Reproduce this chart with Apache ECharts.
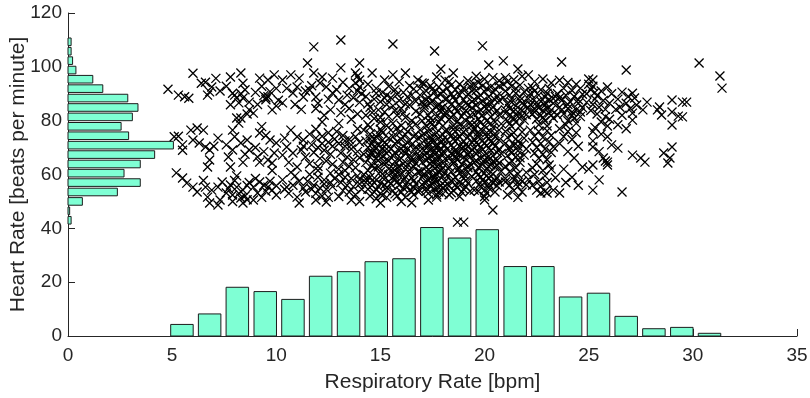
<!DOCTYPE html>
<html>
<head>
<meta charset="utf-8">
<script src="https://cdn.jsdelivr.net/npm/echarts@6/dist/echarts.min.js"></script>
<style>
html,body{margin:0;padding:0;background:#fff;}
#chart{width:810px;height:398px;}
</style>
</head>
<body>
<div id="chart"></div>
<script>
// Respiratory-rate histogram (bottom): bin centres and heights
const rrBinCenters = [5.47, 6.80, 8.13, 9.47, 10.80, 12.13, 13.47, 14.80, 16.13, 17.47, 18.80, 20.13, 21.47, 22.80, 24.13, 25.47, 26.80, 28.13, 29.47, 30.80];
const rrBinValues  = [4.3, 8.2, 18.1, 16.5, 13.6, 22.2, 23.9, 27.6, 28.7, 40.3, 36.4, 39.5, 25.8, 25.8, 14.5, 15.9, 7.3, 2.7, 3.2, 1.0];
const rrBinWidth = 1.333;

// Heart-rate histogram (left): bin centres and lengths
const hrBinCenters = [43.0, 46.5, 50.0, 53.5, 57.0, 60.5, 63.9, 67.4, 70.9, 74.4, 77.9, 81.4, 84.9, 88.4, 91.9, 95.4, 98.8, 102.3, 105.8, 109.3];
const hrBinValues  = [0.15, 0.08, 0.69, 2.37, 3.47, 2.69, 3.47, 4.16, 5.06, 2.91, 2.55, 3.09, 3.36, 2.87, 1.67, 1.19, 0.38, 0.22, 0.15, 0.15];
const hrBinWidth = 3.49;

// Scatter: [respiratory rate, heart rate]
const rrHr = [
[4.8,91.7],[5.3,89.5],[5.6,88.9],[5.8,88.3],[6.0,97.6],[5.1,74.0],[5.3,74.2],[5.5,71.0],[5.9,76.5],[6.0,72.8],[5.5,69.0],[5.2,60.6],[5.5,58.7],[5.7,56.8],[6.0,55.3],
[6.4,93.9],[6.6,94.3],[6.9,92.5],[6.8,90.7],[7.1,95.7],[6.7,89.5],[7.3,91.0],[6.2,77.3],[6.5,76.5],[6.3,71.7],[6.6,70.2],[6.8,69.1],[6.8,65.4],[6.7,62.8],[7.2,73.5],[7.0,70.5],[6.2,53.5],[6.6,55.3],[6.9,54.2],[6.7,51.6],[7.2,55.3],[7.4,57.2],[7.3,50.5],[6.8,49.4],[7.2,48.7],[6.5,57.8],
[7.8,96.2],[8.3,97.7],[8.4,93.9],[7.9,90.2],[8.1,88.4],[8.4,88.4],[8.7,86.9],[8.2,86.6],[7.8,85.9],[8.0,89.5],[8.5,91.5],[7.6,92.8],[8.3,90.0],[8.7,84.0],[8.3,81.0],[8.2,79.1],[8.6,82.5],
[7.7,66.5],[7.8,62.8],[7.9,69.1],[8.3,71.7],[7.9,76.5],[8.1,81.0],[8.7,69.1],[8.6,72.8],[8.0,74.0],[8.5,67.5],[7.6,71.0],[8.4,64.5],
[7.8,56.1],[8.1,55.3],[8.4,54.2],[7.9,52.4],[8.3,51.3],[7.6,53.1],[8.4,49.4],[7.7,54.8],[8.0,57.8],[8.2,53.0],[8.6,55.9],[8.5,52.0],[7.9,50.0],[8.7,57.0],[8.1,59.5],[8.6,50.6],
[9.5,88.5],[9.6,88.9],[9.4,89.3],[9.5,87.8],[9.2,95.8],[9.6,95.1],[9.9,97.0],[10.1,87.6],[9.8,84.0],[8.9,82.8],[9.0,90.5],[9.3,92.8],[10.0,92.0],[9.7,90.8],[9.1,86.0],[10.0,85.5],
[9.1,66.5],[9.2,64.6],[9.6,65.4],[9.8,64.3],[9.7,72.8],[10.0,71.7],[9.2,75.4],[9.0,70.0],[9.4,68.5],[9.9,68.0],[9.5,74.5],[9.3,77.8],[9.8,61.5],
[8.9,55.3],[9.1,53.1],[8.9,50.5],[9.2,57.2],[9.6,55.3],[9.8,54.2],[10.0,52.4],[9.4,56.0],[9.3,51.5],[9.7,57.5],[10.0,55.8],[9.5,53.8],[9.0,58.5],
[10.3,95.1],[10.7,97.0],[11.1,95.8],[11.0,92.5],[10.8,90.3],[11.3,88.8],[10.3,86.6],[10.5,92.0],[11.4,91.0],[10.9,86.0],[11.2,84.2],
[10.7,76.5],[11.0,74.0],[11.3,72.8],[10.5,70.2],[10.8,68.0],[11.2,69.1],[10.4,73.5],[11.4,66.5],[10.6,64.5],[11.0,62.8],[10.3,67.2],[11.3,70.5],
[10.3,58.0],[10.5,55.3],[10.8,56.0],[11.1,57.5],[10.6,53.0],[11.0,51.6],[11.1,49.4],[10.4,54.5],[11.3,55.0],[10.9,59.5],[11.4,53.5],[10.7,60.8],
[11.8,107.4],[11.5,101.4],[11.8,97.7],[12.2,96.2],[12.7,95.8],[11.6,91.4],[11.9,88.8],[12.1,94.0],[12.4,92.5],[12.7,90.3],[11.7,93.0],[12.0,86.5],[12.5,88.0],[11.9,84.5],[12.3,82.0],[12.6,84.0],[12.2,79.5],
[11.6,75.0],[11.9,73.5],[12.2,74.2],[12.5,72.0],[12.7,70.5],[11.7,71.0],[12.0,70.0],[12.3,69.0],[11.8,68.2],[12.6,67.5],[12.1,66.0],[12.4,65.0],[11.6,64.0],[12.0,63.0],[12.7,63.8],[11.9,76.8],[12.5,75.5],[12.8,73.2],[12.2,71.5],
[11.6,60.0],[12.0,59.0],[12.3,58.0],[12.6,57.0],[11.8,56.0],[12.1,55.0],[12.4,54.5],[12.7,55.5],[11.5,57.5],[11.9,53.0],[12.2,52.0],[12.5,51.5],[12.0,61.5],[12.6,60.5],[11.7,54.5],[12.3,56.5],[12.8,58.5],[12.4,49.8],[11.9,50.5],
[13.1,110.0],[13.1,99.6],[14.0,101.4],[13.8,97.7],[14.0,95.1],[13.9,96.5],[13.8,94.0],[14.0,92.5],[13.9,91.0],[14.1,90.0],[13.2,94.3],[13.5,92.0],[12.9,91.5],[13.0,87.7],[13.3,86.0],[13.5,84.5],[13.1,83.0],[13.7,88.5],[13.4,89.5],[14.0,86.8],[13.6,80.5],[13.0,79.0],[13.9,82.5],
[12.9,76.0],[13.2,74.5],[13.5,73.0],[13.8,74.0],[14.0,72.0],[13.0,71.5],[13.3,70.5],[13.6,69.5],[13.9,68.5],[13.1,68.0],[13.4,66.5],[13.7,65.5],[14.0,66.2],[13.2,64.5],[13.5,63.0],[13.8,62.5],[13.0,62.0],[13.6,71.0],[13.3,72.5],[13.9,77.0],
[13.0,60.0],[13.3,59.0],[13.6,58.5],[13.9,59.5],[13.1,57.0],[13.4,56.0],[13.7,55.5],[14.0,56.5],[13.2,54.0],[13.5,53.5],[13.8,52.5],[14.1,54.5],[13.0,51.8],[13.6,50.5],[14.0,50.0],[13.3,61.5],[14.0,58.0],
[15.6,108.5],[14.6,97.7],[15.2,95.1],[14.4,93.5],[14.8,92.0],[15.1,90.5],[15.4,92.8],[14.3,89.0],[14.7,88.0],[15.0,87.0],[15.3,86.0],[14.5,85.0],[14.9,84.0],[15.2,83.2],[14.3,82.0],[14.7,80.8],[15.4,81.5],[15.0,79.5],[14.4,78.5],[15.3,89.5],
[14.2,76.5],[14.5,75.0],[14.8,74.0],[15.1,75.5],[15.4,73.5],[14.3,72.5],[14.6,71.5],[14.9,70.8],[15.2,71.8],[14.4,70.0],[14.7,69.0],[15.0,68.5],[15.3,69.5],[14.2,67.5],[14.5,66.5],[14.8,65.8],[15.1,66.8],[15.4,65.0],[14.3,64.5],[14.6,63.5],[14.9,62.8],[15.2,63.8],[14.4,61.5],[15.0,61.0],[15.4,62.0],
[14.7,73.0],[15.1,72.8],[14.9,67.0],[15.3,67.8],[14.6,68.0],[15.0,76.8],
[14.2,60.0],[14.5,59.0],[14.8,58.0],[15.1,58.8],[15.4,57.5],[14.3,57.0],[14.6,56.0],[14.9,55.5],[15.2,56.2],[14.4,54.5],[14.7,53.5],[15.0,53.0],[15.3,54.0],[14.5,52.0],[15.0,49.4],[15.3,51.5],[14.8,51.0],[14.3,58.3],[15.4,59.8],
[15.6,97.0],[16.2,97.7],[16.8,95.1],[15.9,94.5],[16.4,93.0],[15.7,91.5],[16.1,90.5],[16.6,91.8],[15.5,88.5],[15.9,87.5],[16.3,88.8],[16.7,87.2],[15.6,85.5],[16.0,84.5],[16.4,85.8],[16.7,83.5],[15.8,82.0],[16.2,81.2],[16.5,80.0],[15.6,79.0],[16.0,78.2],[16.7,78.8],
[15.5,76.5],[15.9,75.5],[16.3,76.0],[16.7,75.0],[15.6,74.0],[16.0,73.0],[16.4,72.5],[16.8,73.5],[15.7,71.5],[16.1,70.5],[16.5,71.0],[15.5,69.5],[15.9,68.8],[16.3,69.5],[16.7,68.5],[15.6,67.0],[16.0,66.0],[16.4,67.2],[16.8,66.5],[15.7,64.8],[16.1,64.0],[16.5,65.0],[15.8,62.5],[16.2,62.0],[16.6,63.0],
[15.6,61.0],[16.0,60.0],[16.4,60.5],[16.8,61.0],[15.7,58.5],[16.1,58.0],[16.5,58.8],[15.5,56.5],[15.9,56.0],[16.3,55.5],[16.7,56.5],[15.6,54.0],[16.0,53.5],[16.4,54.2],[16.8,53.8],[15.8,52.0],[16.2,51.5],[16.6,52.5],[16.0,50.0],[16.5,49.5],[15.7,59.5],[16.3,57.2],[16.6,55.2],[15.9,62.8],[16.2,67.8],
[17.6,105.9],[17.9,99.2],[17.7,96.2],[18.1,95.1],[17.0,94.0],[17.4,93.0],[17.8,92.5],[16.9,92.0],[17.2,91.0],[17.6,90.5],[18.0,91.0],[16.9,89.5],[17.3,88.5],[17.7,89.0],[18.1,88.0],[17.0,87.0],[17.4,86.5],[17.8,86.0],[18.0,85.0],[17.1,84.8],[17.5,84.0],[17.9,83.2],[16.9,82.5],[17.3,82.0],[17.7,81.5],[18.1,81.8],[17.0,80.0],[17.4,79.2],[17.8,79.5],[17.2,78.0],[17.6,77.5],[18.0,78.0],[17.5,87.5],[17.1,85.8],[17.9,84.5],
[16.9,76.5],[17.3,76.0],[17.7,75.5],[18.1,76.2],[17.0,74.5],[17.4,74.0],[17.8,73.5],[17.1,72.5],[17.5,72.0],[17.9,71.8],[16.9,71.0],[17.3,70.5],[17.7,70.2],[18.1,70.8],[17.0,69.5],[17.4,69.0],[17.8,68.8],[17.2,68.0],[17.6,67.5],[18.0,67.2],[16.9,66.5],[17.3,66.0],[17.7,65.5],[18.1,65.8],[17.0,64.5],[17.4,64.0],[17.8,63.5],[17.2,62.8],[17.6,62.2],[18.0,62.5],[17.5,73.0],[17.9,69.8],[17.1,67.2],[17.5,65.0],[18.0,74.8],
[16.9,61.0],[17.3,60.5],[17.7,60.0],[18.1,60.8],[17.0,59.0],[17.4,58.5],[17.8,58.0],[18.1,57.5],[17.1,57.0],[17.5,56.5],[17.9,56.0],[17.2,55.0],[17.6,54.5],[18.0,54.8],[16.9,54.0],[17.3,53.0],[17.7,52.5],[18.0,52.8],[17.7,51.6],[17.3,50.5],[17.5,59.5],[17.9,61.5],[17.0,56.2],[17.6,57.8],[18.1,55.8],[17.4,55.6],[17.8,53.5],
[18.5,97.7],[18.3,94.5],[18.8,93.5],[19.2,94.8],[18.2,92.0],[18.6,91.5],[19.0,92.2],[19.4,91.0],[18.4,90.0],[18.8,89.5],[19.2,89.8],[18.2,88.2],[18.6,87.5],[19.0,87.8],[19.4,87.0],[18.4,86.0],[18.8,85.5],[19.2,85.8],[18.3,84.2],[18.7,83.5],[19.1,83.8],[19.4,84.8],[18.5,82.2],[18.9,81.5],[19.3,82.0],[18.3,80.5],[18.7,79.8],[19.1,80.0],[18.5,78.0],[19.0,77.8],[19.4,78.5],
[18.2,76.5],[18.6,76.0],[19.0,75.8],[19.4,76.2],[18.4,74.5],[18.8,74.0],[19.2,73.8],[18.2,72.8],[18.6,72.2],[19.0,72.5],[19.4,71.8],[18.4,71.0],[18.8,70.5],[19.2,70.2],[18.2,69.5],[18.6,69.0],[19.0,68.8],[19.4,69.2],[18.4,67.8],[18.8,67.2],[19.2,67.5],[18.3,66.0],[18.7,65.5],[19.1,65.8],[18.5,64.2],[18.9,63.8],[19.3,64.0],[18.3,62.8],[18.8,62.2],[19.2,62.5],
[18.4,61.0],[18.8,60.5],[19.2,60.8],[18.2,59.5],[18.6,59.0],[19.0,58.5],[19.4,59.2],[18.4,57.5],[18.8,57.0],[19.2,56.8],[18.3,55.8],[18.7,55.2],[19.1,55.5],[18.5,54.0],[18.9,53.5],[19.3,53.8],[18.3,52.5],[18.8,51.8],[19.5,54.2],[18.7,42.3],[19.0,42.3],[18.6,68.2],[19.0,70.0],[18.5,73.2],[19.3,66.5],
[19.9,107.8],[20.2,100.7],[19.6,96.5],[20.0,95.5],[20.4,96.0],[20.7,94.8],[19.5,93.5],[19.9,93.0],[20.3,92.5],[20.7,92.8],[19.6,91.2],[20.0,90.8],[20.4,90.5],[19.8,89.5],[20.2,88.8],[20.6,89.2],[19.5,88.0],[19.9,87.2],[20.3,86.8],[20.7,87.5],[19.6,85.8],[20.0,85.2],[20.4,85.0],[19.8,84.0],[20.2,83.5],[20.6,83.8],[19.5,82.5],[19.9,82.0],[20.3,81.5],[20.7,82.2],[19.7,80.5],[20.1,80.0],[20.5,79.5],[19.6,78.5],[20.0,78.0],[20.4,77.5],[20.8,78.8],
[19.5,76.8],[19.9,76.2],[20.3,75.8],[20.7,76.5],[19.7,74.8],[20.1,74.2],[20.5,74.0],[19.5,73.0],[19.9,72.5],[20.3,72.2],[20.7,72.8],[19.7,71.2],[20.1,70.8],[20.5,70.5],[19.5,69.8],[19.9,69.2],[20.3,68.8],[20.7,69.5],[19.6,67.8],[20.0,67.2],[20.4,67.0],[20.8,67.8],[19.8,66.0],[20.2,65.5],[20.6,65.2],[19.5,64.5],[19.9,64.0],[20.3,63.5],[20.7,64.2],[19.7,62.5],[20.1,62.0],[20.5,62.8],
[19.6,61.0],[20.0,60.5],[20.4,60.2],[20.8,61.2],[19.8,59.0],[20.2,58.5],[20.6,58.8],[19.6,57.5],[20.0,57.0],[20.4,56.8],[19.8,55.5],[20.2,55.0],[20.6,55.8],[19.7,53.8],[20.1,53.2],[20.5,53.5],[20.0,51.8],[20.4,46.8],[20.0,50.5],[20.3,59.5],[19.9,58.0],[20.7,57.2],
[20.9,102.2],[21.6,99.2],[21.0,96.0],[21.4,95.2],[21.8,96.5],[20.9,93.5],[21.3,92.8],[21.7,93.2],[22.1,92.0],[21.0,91.0],[21.5,90.2],[21.9,90.8],[20.9,88.5],[21.3,88.0],[21.7,87.5],[22.1,88.2],[21.1,86.2],[21.5,85.5],[21.9,85.8],[21.0,84.0],[21.4,83.5],[21.8,83.8],[22.1,84.8],[21.2,82.0],[21.6,81.5],[22.0,82.2],[21.1,80.0],[21.5,79.5],[21.9,80.2],[21.3,77.8],
[21.0,76.0],[21.4,75.5],[21.8,75.8],[21.1,73.8],[21.5,73.2],[21.9,73.5],[21.0,71.5],[21.4,71.0],[21.8,71.2],[21.2,69.2],[21.6,68.8],[22.0,69.5],[21.1,67.0],[21.5,66.5],[21.9,67.2],[21.3,65.0],[21.7,64.5],[21.0,63.0],[21.5,62.5],
[21.2,61.0],[21.6,60.2],[22.0,60.8],[21.0,58.5],[21.4,58.0],[21.8,57.5],[22.1,58.2],[21.2,56.0],[21.6,55.5],[22.0,56.2],[21.4,54.0],[21.8,53.5],[21.1,52.5],[21.6,51.5],
[22.1,97.0],[22.4,94.5],[22.8,95.5],[23.2,94.0],[22.3,92.2],[22.7,91.5],[23.1,92.0],[22.2,90.0],[22.6,89.5],[23.0,90.2],[23.4,89.0],[22.3,88.0],[22.7,87.2],[23.1,87.8],[22.2,86.0],[22.5,85.5],[22.9,85.8],[23.3,86.5],[22.4,84.2],[22.8,83.8],[23.2,84.0],[22.3,82.5],[22.7,82.0],[23.1,82.8],[22.5,80.5],[22.9,80.0],[23.3,81.0],[22.6,78.5],[23.0,78.0],
[22.2,76.5],[22.6,76.0],[23.0,76.2],[22.4,74.2],[22.8,73.8],[23.2,74.5],[22.3,72.0],[22.7,71.5],[23.1,72.2],[22.5,70.0],[22.9,69.5],[23.3,70.2],[22.4,68.0],[22.8,67.5],[23.2,68.2],[22.6,66.0],[23.0,65.5],[22.5,64.0],[23.1,63.5],
[22.3,62.5],[22.8,61.5],[23.2,62.0],[22.4,60.0],[22.9,59.5],[22.6,57.5],[23.0,57.0],[22.3,56.0],[22.7,55.5],[22.5,54.2],[22.9,53.8],[22.7,53.1],[23.0,53.1],[23.3,54.2],[23.4,58.8],
[23.7,101.8],[23.6,95.0],[24.0,94.2],[24.4,93.5],[23.8,92.0],[24.2,91.2],[24.6,92.0],[23.5,90.0],[23.9,89.5],[24.3,89.0],[24.7,89.8],[23.7,87.5],[24.1,87.0],[24.5,86.5],[23.6,85.0],[24.0,84.5],[24.4,84.0],[24.7,84.8],[23.8,82.5],[24.2,82.0],[24.6,81.5],[24.0,80.0],[24.4,79.0],
[23.6,77.0],[24.0,76.0],[24.4,75.5],[23.8,74.0],[24.2,73.0],[23.6,71.5],[24.5,70.5],[24.0,68.5],[24.3,66.1],
[24.7,62.8],[23.6,53.1],[23.8,62.0],[24.2,59.0],[23.9,57.0],[24.5,56.0],
[25.0,95.5],[25.2,95.1],[25.0,93.5],[25.2,92.8],[25.1,91.5],[25.3,90.5],[24.9,90.0],[25.4,89.2],[25.6,91.0],[25.9,92.5],[26.1,90.0],[25.3,88.0],[25.7,87.5],[26.0,86.5],[25.2,86.0],[25.5,85.0],[25.8,84.2],[25.1,83.8],[25.4,82.5],[25.8,81.5],[26.0,80.5],[25.6,79.5],[25.9,78.0],[25.3,77.5],
[25.2,76.0],[25.6,75.0],[25.9,74.0],[25.2,72.5],[25.2,70.2],[26.1,71.0],[25.5,68.5],
[25.7,66.1],[25.9,64.6],[25.9,63.5],[25.8,65.0],[25.2,63.5],[25.0,62.0],[25.2,54.2],[25.5,58.0],
[26.8,98.8],[26.6,90.6],[27.1,90.2],[27.2,88.4],[26.4,88.0],[26.8,86.5],[26.5,85.0],[27.0,84.5],[27.1,82.8],[26.6,82.0],[27.1,80.2],[26.4,78.5],[26.8,77.0],[26.4,69.8],[27.1,67.2],[26.6,53.5],[26.3,84.2],[26.9,89.0],[27.3,85.8],
[27.8,86.9],[28.4,85.1],[28.5,82.1],[28.3,84.0],[27.6,84.0],[27.5,66.1],[27.7,64.6],[28.6,68.0],
[29.0,87.7],[29.5,86.9],[29.7,86.9],[29.0,83.2],[29.0,78.4],[29.5,81.4],[29.3,81.7],[29.0,70.2],[28.9,66.1],[28.8,64.3],
[30.3,101.4],[31.3,96.6],[31.4,92.1],
[14.4,86.2],[14.8,90.2],[15.2,88.4],[14.6,83.0],[15.0,81.2],[14.5,77.5],[15.3,78.2],[14.9,75.2],[14.5,73.2],[15.3,71.2],[14.7,70.2],[15.1,69.8],[14.5,67.8],[14.9,65.2],[15.2,64.8],[14.7,62.2],[15.1,60.2],[14.6,57.8],[15.0,56.8],[15.3,55.2],[14.8,54.3],[15.1,52.2],
[15.8,89.8],[16.2,86.2],[16.5,89.5],[15.7,83.8],[16.1,82.8],[16.4,78.2],[15.8,77.2],[16.2,74.8],[16.6,74.2],[15.8,72.2],[16.3,71.8],[16.7,70.2],[15.7,68.2],[16.1,68.8],[16.5,66.2],[15.9,65.5],[16.3,63.8],[16.7,64.2],[15.6,62.2],[16.4,61.8],[15.8,60.8],[16.2,59.2],[16.6,57.8],[15.8,57.2],[16.1,55.0],[16.5,53.5],[15.7,52.8],
[17.1,93.8],[17.5,91.8],[17.9,89.8],[17.2,87.8],[17.7,85.2],[18.1,83.0],[17.4,80.8],[17.9,80.8],[17.5,78.8],[17.1,75.2],[17.6,74.8],[18.0,73.0],[17.3,71.8],[17.7,71.2],[17.2,69.8],[17.6,68.8],[18.0,68.5],[17.4,67.0],[17.8,66.5],[17.2,65.2],[17.6,63.8],[18.0,64.2],[17.3,61.8],[17.8,61.2],[17.1,60.2],[17.6,58.8],[18.0,59.2],[17.3,57.8],[17.8,55.2],[17.2,53.8],
[18.4,93.2],[18.9,90.8],[19.3,92.8],[18.5,88.8],[19.1,86.5],[18.6,84.8],[19.0,82.8],[18.4,81.2],[18.8,78.5],[19.3,79.2],[18.5,76.8],[18.9,75.2],[19.3,74.8],[18.7,73.2],[19.1,71.2],[18.5,69.8],[18.9,69.8],[19.3,68.2],[18.6,66.8],[19.0,66.5],[18.5,65.2],[19.2,63.2],[18.7,61.8],[19.0,60.0],[18.5,58.2],[19.1,57.8],[18.6,56.2],[19.0,54.5],[18.4,53.2],
[19.7,94.2],[20.1,92.0],[20.5,91.8],[19.7,88.5],[20.1,86.2],[20.5,87.8],[19.7,83.0],[20.1,84.5],[20.5,82.8],[19.8,79.2],[20.3,79.0],[19.7,75.8],[20.1,75.5],[20.5,75.2],[19.7,73.8],[20.2,73.5],[19.6,71.8],[20.0,71.5],[20.4,71.8],[19.8,70.2],[20.2,69.8],[20.6,68.2],[19.7,68.5],[20.2,66.8],[19.6,65.2],[20.0,65.5],[20.4,64.8],[19.8,63.2],[20.2,63.0],[20.6,63.5],[19.7,60.0],[20.1,59.5],[20.5,57.8],[19.8,56.8],[20.2,56.5],[20.0,54.2],
[21.1,94.5],[21.5,92.0],[21.2,89.5],[21.7,88.8],[21.3,86.8],[21.8,86.5],[21.2,84.5],[21.6,83.2],[21.0,82.8],[21.4,81.0],[21.8,81.8],[21.2,78.8],[21.7,78.0],[21.3,74.8],[21.6,72.2],[21.2,70.2],[21.6,70.5],[21.3,68.0],[21.7,66.2],[21.2,64.0],[21.4,59.2],[21.0,57.2],[21.6,57.0],
[22.4,91.0],[22.9,88.8],[23.3,88.2],[22.5,86.8],[22.9,86.8],[22.6,84.8],[23.0,84.5],[22.4,83.2],[22.8,81.2],[23.2,82.0],[23.6,88.5],[24.0,86.0],[23.7,84.0],[24.2,83.2],[23.5,82.0],[24.5,87.8],[24.9,86.8],[24.6,83.2],[24.3,80.8],[23.9,78.5]
];

const textColor = '#262626';
const barFill = '#7fffd4';
const barEdge = '#1c1c1c';

const chart = echarts.init(document.getElementById('chart'), null, {renderer: 'canvas'});

const option = {
  animation: false,
  backgroundColor: '#ffffff',
  grid: {left: 68, right: 13, top: 13, bottom: 62, containLabel: false, outerBoundsMode: 'none'},
  xAxis: {
    type: 'value', min: 0, max: 35, interval: 5,
    name: 'Respiratory Rate [bpm]', nameLocation: 'middle', nameGap: 36,
    nameTextStyle: {color: textColor, fontSize: 21, fontFamily: 'Liberation Sans, Arial, sans-serif'},
    axisLine: {show: true, onZero: false, lineStyle: {color: '#262626', width: 1}},
    axisTick: {show: true, inside: true, length: 7, lineStyle: {color: '#262626'}},
    axisLabel: {color: textColor, fontSize: 19, margin: 10, fontFamily: 'Liberation Sans, Arial, sans-serif'},
    splitLine: {show: false}
  },
  yAxis: {
    type: 'value', min: 0, max: 120, interval: 20,
    name: 'Heart Rate [beats per minute]', nameLocation: 'middle', nameGap: 39, nameRotate: 90,
    nameMoveOverlap: false,
    nameTextStyle: {color: textColor, fontSize: 21, fontFamily: 'Liberation Sans, Arial, sans-serif'},
    axisLine: {show: true, onZero: false, lineStyle: {color: '#262626', width: 1}},
    axisTick: {show: true, inside: true, length: 7, lineStyle: {color: '#262626'}},
    axisLabel: {color: textColor, fontSize: 19, margin: 6, fontFamily: 'Liberation Sans, Arial, sans-serif'},
    splitLine: {show: false}
  },
  series: [
    {
      type: 'custom', name: 'rrHist', z: 2, silent: true,
      data: rrBinCenters.map((c, i) => [c, rrBinValues[i]]),
      renderItem: function (params, api) {
        const base = api.coord([api.value(0), 0]);
        const top = api.coord([api.value(0), api.value(1)]);
        const w = api.size([rrBinWidth * 0.81, 0])[0];
        return {
          type: 'rect',
          shape: {x: base[0] - w / 2, y: top[1], width: w, height: base[1] - top[1]},
          style: {fill: barFill, stroke: barEdge, lineWidth: 1}
        };
      }
    },
    {
      type: 'custom', name: 'hrHist', z: 2, silent: true,
      data: hrBinCenters.map((c, i) => [hrBinValues[i], c]),
      renderItem: function (params, api) {
        const base = api.coord([0, api.value(1)]);
        const end = api.coord([api.value(0), api.value(1)]);
        const h = api.size([0, hrBinWidth * 0.81])[1];
        return {
          type: 'rect',
          shape: {x: base[0], y: base[1] - h / 2, width: end[0] - base[0], height: h},
          style: {fill: barFill, stroke: barEdge, lineWidth: 1}
        };
      }
    },
    {
      type: 'scatter', name: 'points', z: 3, silent: true,
      data: rrHr,
      symbol: 'path://M0 0L10 10M10 0L0 10',
      symbolSize: 9,
      itemStyle: {color: 'rgba(0,0,0,0)', borderColor: '#000000', borderWidth: 1.3, opacity: 1}
    }
  ]
};
chart.setOption(option);
</script>
</body>
</html>
